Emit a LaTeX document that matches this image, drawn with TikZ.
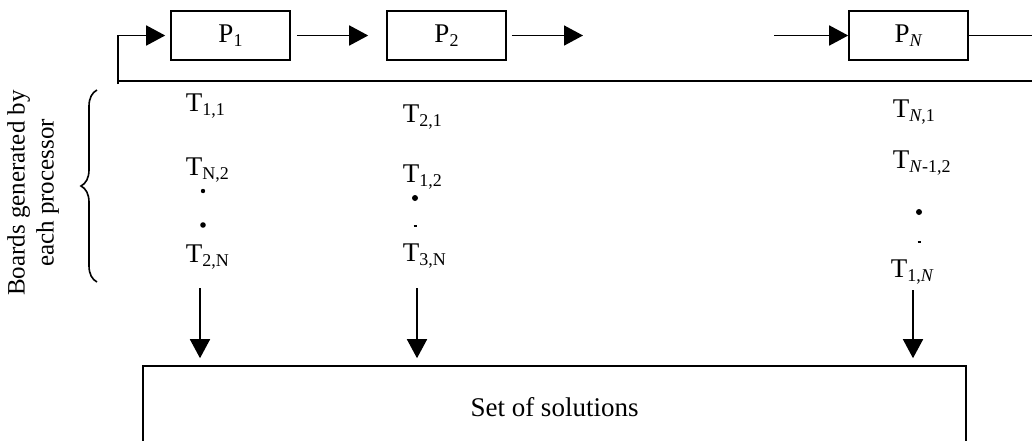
\documentclass[tikz,border=0pt]{standalone}
\usepackage{fontspec}
\setmainfont{Liberation Serif}
\usetikzlibrary{positioning,arrows.meta,decorations.pathreplacing}
\newcommand{\tsub}[1]{\raisebox{-2.2pt}{\fontsize{9}{10}\selectfont #1}}

\begin{document}
\begin{tikzpicture}[x=0.5pt,y=-0.5pt,line width=0.8pt,
    every node/.style={font=\fontsize{13.5}{15.5}\selectfont},
    proc/.style={draw,minimum width=59.5pt,minimum height=24.5pt,inner sep=0pt},
    board/.style={anchor=base west,inner sep=0pt},
    >={Triangle[length=9.5pt,width=10pt]}]
        \useasboundingbox (0,0) rectangle (1032,440);

        % processors
        \node[proc] (p1) at (230.5,35.5) {P\tsub{1}};
        \node[proc] (p2) at (446.5,35.5) {P\tsub{2}};
        \node[proc] (pn) at (908.5,35.5) {P\tsub{\textit{N}}};

        % ring of processors
        \coordinate (fb) at (118,84);
        \coordinate (ringL) at (118,81);
        \coordinate (ringR) at (1032,81);
        \coordinate (p2out) at (583,35.5);
        \coordinate (pnin) at (774,35.5);
        \coordinate (pnout) at (1032,35.5);
        \draw[->,shorten >=2.5pt] (fb) |- (p1);
        \draw (ringL) -- (ringR);
        \draw[->,shorten <=3pt,shorten >=9pt] (p1) -- (p2);
        \draw[->,shorten <=2.5pt] (p2) -- (p2out);
        \draw[->] (pnin) -- (pn);
        \draw (pn) -- (pnout);

        % boards of each processor
        \node[board] (t11) at (185,111) {T\tsub{1,1}};
        \node[board] (tn2) at (185,175) {T\tsub{N,2}};
        \node[board] (t2n) at (185,262) {T\tsub{2,N}};
        \node[board] (t21) at (402,122) {T\tsub{2,1}};
        \node[board] (t12) at (402,182) {T\tsub{1,2}};
        \node[board] (t3n) at (402,261) {T\tsub{3,N}};
        \node[board] (tn1) at (892,117) {T\tsub{\textit{N},1}};
        \node[board] (tm2) at (892,168) {T\tsub{\textit{N}-1,2}};
        \node[board] (t1n) at (890,277) {T\tsub{1,\textit{N}}};

        % dots
        \foreach \x/\y/\r in {203/191/1.1, 203/225/1.4, 415/198/1.5, 919/212/1.5}
            \fill (\x,\y) circle (\r pt);
        \foreach \x/\y in {415/226, 919/242}
            \draw[line width=0.6pt] (\x-1.5,\y) -- (\x+1.5,\y);

        % brace and label
        \draw[decorate,decoration={brace,amplitude=8pt}] (97,282) -- (97,90);
        \node[rotate=90,align=center,font=\fontsize{12.5}{14.5}\selectfont] (gen) at (33,193) {Boards generated by\\each processor};

        % set of solutions
        \node[draw,minimum width=411.5pt,minimum height=41pt,inner sep=0pt] (sol) at (554.5,407) {Set of solutions};
        \coordinate (a1) at (200,288);
        \coordinate (a2) at (417,288);
        \coordinate (a3) at (913,290);
        \foreach \a in {a1,a2,a3}
            \draw[->,shorten >=3.5pt] (\a) -- (\a |- sol.north);
    \end{tikzpicture}
\end{document}
